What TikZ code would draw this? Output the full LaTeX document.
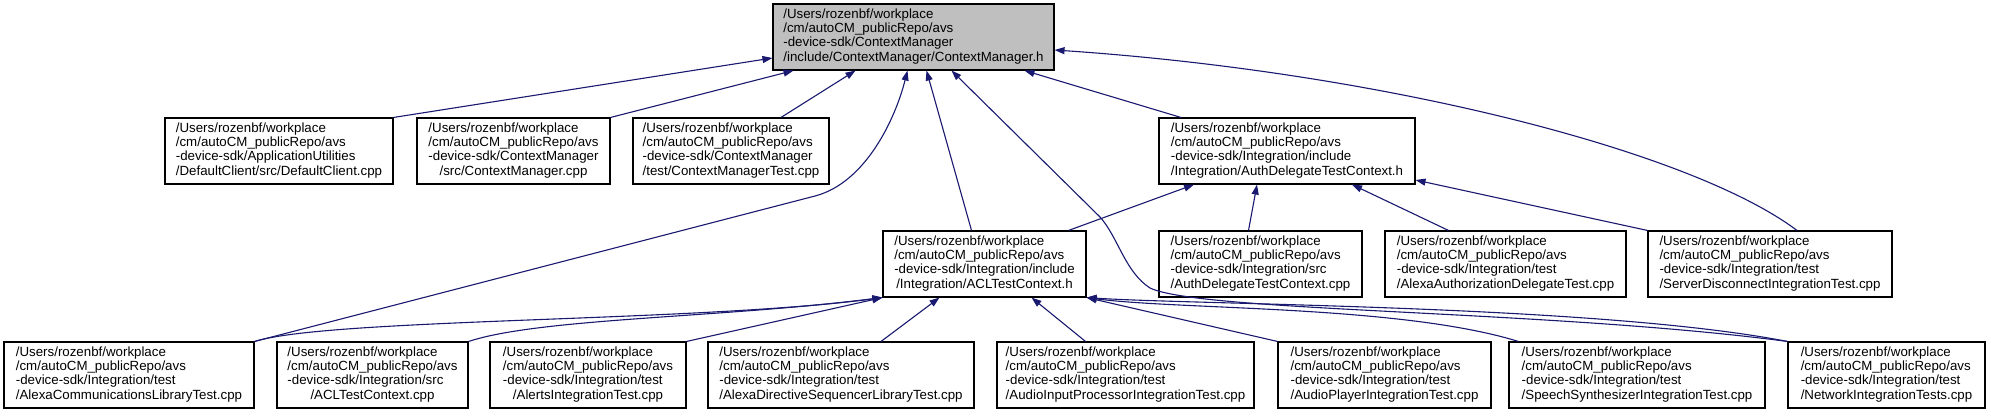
\documentclass[tikz,border=0pt]{standalone}
\usepackage{fontspec}
\setmainfont{Liberation Sans}
\usepackage{tikz}
\usetikzlibrary{
  arrows.meta,
  calc
}
\definecolor{edgecolor}{RGB}{25, 25, 112}
\definecolor{rootfill}{RGB}{191, 191, 191}
\newcommand{\filepath}[4]{%
  \begin{tabular}{@{}l@{}}#1\\#2\\#3\\\multicolumn{1}{@{}c@{}}{#4}\end{tabular}}
\tikzset{
filebox/.style={
  draw=black,
  line width=1.1pt,
  fill=white,
  rectangle,
  inner sep=0pt,
  minimum height=66pt,
  font=\fontsize{13.3}{14.2}\selectfont
},
rootbox/.style={
  filebox,
  fill=rootfill
},
bw/.style={
  minimum width=#1pt
},
dep/.style={
  -{Triangle[length=10pt,width=7pt]},
  line width=1.1pt,
  draw=edgecolor
}
}

\begin{document}
\begin{tikzpicture}[x=1pt, y=-1pt]
      \useasboundingbox (0,0) rectangle (1991,416);
      \node[rootbox, bw=281] (root) at (913.5,37) {\filepath{/Users/rozenbf/workplace}{/cm/autoCM\_publicRepo/avs}{-device-sdk/ContextManager}{/include/ContextManager/ContextManager.h}};

      \node[filebox, bw=228] (dc) at (279,151) {\filepath{/Users/rozenbf/workplace}{/cm/autoCM\_publicRepo/avs}{-device-sdk/ApplicationUtilities}{/DefaultClient/src/DefaultClient.cpp}};
      \node[filebox, bw=193] (cmcpp) at (513.5,151) {\filepath{/Users/rozenbf/workplace}{/cm/autoCM\_publicRepo/avs}{-device-sdk/ContextManager}{/src/ContextManager.cpp}};
      \node[filebox, bw=196] (cmtest) at (731,151) {\filepath{/Users/rozenbf/workplace}{/cm/autoCM\_publicRepo/avs}{-device-sdk/ContextManager}{/test/ContextManagerTest.cpp}};
      \node[filebox, bw=256] (adh) at (1287,151) {\filepath{/Users/rozenbf/workplace}{/cm/autoCM\_publicRepo/avs}{-device-sdk/Integration/include}{/Integration/AuthDelegateTestContext.h}};

      \node[filebox, bw=203] (aclh) at (984.5,264) {\filepath{/Users/rozenbf/workplace}{/cm/autoCM\_publicRepo/avs}{-device-sdk/Integration/include}{/Integration/ACLTestContext.h}};
      \node[filebox, bw=203] (adcpp) at (1260.5,264) {\filepath{/Users/rozenbf/workplace}{/cm/autoCM\_publicRepo/avs}{-device-sdk/Integration/src}{/AuthDelegateTestContext.cpp}};
      \node[filebox, bw=241] (aadt) at (1505.5,264) {\filepath{/Users/rozenbf/workplace}{/cm/autoCM\_publicRepo/avs}{-device-sdk/Integration/test}{/AlexaAuthorizationDelegateTest.cpp}};
      \node[filebox, bw=244] (sdit) at (1770,264) {\filepath{/Users/rozenbf/workplace}{/cm/autoCM\_publicRepo/avs}{-device-sdk/Integration/test}{/ServerDisconnectIntegrationTest.cpp}};

      \node[filebox, bw=250] (acltest) at (129,375) {\filepath{/Users/rozenbf/workplace}{/cm/autoCM\_publicRepo/avs}{-device-sdk/Integration/test}{/AlexaCommunicationsLibraryTest.cpp}};
      \node[filebox, bw=191] (aclcpp) at (372.5,375) {\filepath{/Users/rozenbf/workplace}{/cm/autoCM\_publicRepo/avs}{-device-sdk/Integration/src}{/ACLTestContext.cpp}};
      \node[filebox, bw=196] (alerts) at (588,375) {\filepath{/Users/rozenbf/workplace}{/cm/autoCM\_publicRepo/avs}{-device-sdk/Integration/test}{/AlertsIntegrationTest.cpp}};
      \node[filebox, bw=266] (adslt) at (841,375) {\filepath{/Users/rozenbf/workplace}{/cm/autoCM\_publicRepo/avs}{-device-sdk/Integration/test}{/AlexaDirectiveSequencerLibraryTest.cpp}};
      \node[filebox, bw=257] (aipit) at (1125.5,375) {\filepath{/Users/rozenbf/workplace}{/cm/autoCM\_publicRepo/avs}{-device-sdk/Integration/test}{/AudioInputProcessorIntegrationTest.cpp}};
      \node[filebox, bw=213] (apit) at (1384.5,375) {\filepath{/Users/rozenbf/workplace}{/cm/autoCM\_publicRepo/avs}{-device-sdk/Integration/test}{/AudioPlayerIntegrationTest.cpp}};
      \node[filebox, bw=256] (ssit) at (1637,375) {\filepath{/Users/rozenbf/workplace}{/cm/autoCM\_publicRepo/avs}{-device-sdk/Integration/test}{/SpeechSynthesizerIntegrationTest.cpp}};
      \node[filebox, bw=197] (nit) at (1886.5,375) {\filepath{/Users/rozenbf/workplace}{/cm/autoCM\_publicRepo/avs}{-device-sdk/Integration/test}{/NetworkIntegrationTests.cpp}};

      \draw[dep] (dc.north east) -- ([yshift=-21pt]root.west);
      \draw[dep] (cmcpp.north east) -- ([xshift=-120pt]root.south);
      \draw[dep] ([xshift=50pt]cmtest.north) -- ([xshift=-58pt]root.south);
      \draw[dep] (acltest.north east) -- (815,196) .. controls (865,183) and (895,120) .. ([xshift=-6pt]root.south);
      \draw[dep] ([xshift=-13pt]aclh.north) -- ([xshift=13pt]root.south);
      \draw[dep] (nit.north west) .. controls (1550,310) and (1200,312) .. (1150,288) .. controls (1125,272) and (1118,237) .. (1100,217) -- ([xshift=38pt]root.south);
      \draw[dep] ([xshift=-106pt]adh.north) -- ([xshift=111pt]root.south);
      \draw[dep] ([xshift=27pt]sdit.north) .. controls (1690,150) and (1380,72) .. ([yshift=-13pt]root.east);

      \draw[dep] ([xshift=84pt]aclh.north) -- ([xshift=-93pt]adh.south);
      \draw[dep] ([xshift=-12pt]adcpp.north) -- ([xshift=-30pt]adh.south);
      \draw[dep] ([xshift=-57pt]aadt.north) -- ([xshift=65pt]adh.south);
      \draw[dep] (sdit.north west) -- ([yshift=-29pt]adh.east);

      \draw[dep] (acltest.north east) .. controls (330,318) and (700,322) .. (aclh.south west);
      \draw[dep] (aclcpp.north east) .. controls (540,318) and (720,318) .. (aclh.south west);
      \draw[dep] (alerts.north east) -- (aclh.south west);
      \draw[dep] ([xshift=40pt]adslt.north) -- ([xshift=-45pt]aclh.south);
      \draw[dep] ([xshift=-40pt]aipit.north) -- ([xshift=47pt]aclh.south);
      \draw[dep] (apit.north west) -- (aclh.south east);
      \draw[dep] ([xshift=10pt]ssit.north west) .. controls (1400,305) and (1180,310) .. (aclh.south east);
      \draw[dep] (nit.north west) .. controls (1600,305) and (1200,305) .. (aclh.south east);
    \end{tikzpicture}
\end{document}
